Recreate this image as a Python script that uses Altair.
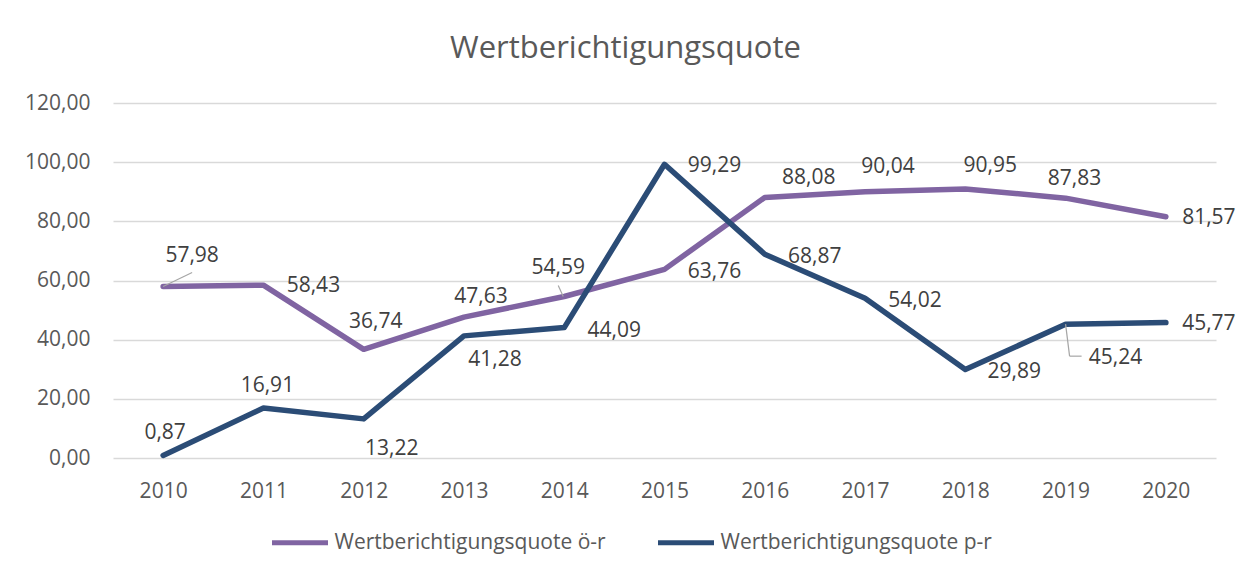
import altair as alt
import pandas as pd

years = [2010, 2011, 2012, 2013, 2014, 2015, 2016, 2017, 2018, 2019, 2020]
quote_oer = [57.98, 58.43, 36.74, 47.63, 54.59, 63.76, 88.08, 90.04, 90.95, 87.83, 81.57]
quote_pr = [0.87, 16.91, 13.22, 41.28, 44.09, 99.29, 68.87, 54.02, 29.89, 45.24, 45.77]
series_names = ["Wertberichtigungsquote ö-r", "Wertberichtigungsquote p-r"]
series_colors = ["#8064a2", "#2b4c76"]
y_ticks = [0, 20, 40, 60, 80, 100, 120]
title_text = "Wertberichtigungsquote"

rows = []
for name, vals in zip(series_names, [quote_oer, quote_pr]):
    for yr, v in zip(years, vals):
        rows.append({"Jahr": str(yr), "Reihe": name, "Wert": v})
df = pd.DataFrame(rows)

FONT = "Open Sans"
fmt = "replace(format(datum.Wert, '.2f'), '.', ',')"

x_enc = alt.X("Jahr:O", sort=[str(y) for y in years],
              scale=alt.Scale(type="point", padding=0.5),
              axis=alt.Axis(title=None, labelAngle=0, domain=False, ticks=False,
                            labelPadding=22, grid=False))
y_enc = alt.Y("Wert:Q", scale=alt.Scale(domain=[0, 120]),
              axis=alt.Axis(title=None, values=y_ticks, domain=False, ticks=False,
                            labelPadding=23, gridColor="#d9d9d9", gridWidth=1.3,
                            labelExpr="replace(format(datum.value, '.2f'), '.', ',')"))

base = alt.Chart(df).encode(x=x_enc, y=y_enc).transform_calculate(label=fmt)

legend = alt.Legend(title=None, orient="none", legendX=156.5, legendY=409,
                    direction="horizontal", symbolType="stroke", symbolSize=3136,
                    symbolStrokeWidth=5, labelFont=FONT, labelFontSize=21,
                    labelColor="#595959", labelLimit=500, columnPadding=41,
                    labelOffset=4, padding=0)
color_enc = alt.Color("Reihe:N", scale=alt.Scale(domain=series_names, range=series_colors),
                      legend=legend)

layers = []
for name in series_names:
    layers.append(
        base.transform_filter(alt.datum.Reihe == name)
        .mark_line(strokeWidth=5.5, strokeCap="round", strokeJoin="round")
        .encode(color=color_enc)
    )

# label placement (pixel offsets from point) per series and year
placement = {
    series_names[0]: {2010: (29, -30), 2011: (50, 1), 2012: (12, -27), 2013: (17, -20),
                      2014: (-6, -29), 2015: (50, 3), 2016: (44, -19), 2017: (23, -25),
                      2018: (25, -23), 2019: (9, -19), 2020: (43, 1)},
    series_names[1]: {2010: (2, -22), 2011: (4, -22), 2012: (28, 30), 2013: (31, 24),
                      2014: (50, 3), 2015: (50, 2), 2016: (50, 3), 2017: (50, 3),
                      2018: (49, 2), 2019: (50, 34), 2020: (43, 1)},
}
for name in series_names:
    for yr, (dx, dy) in placement[name].items():
        layers.append(
            base.transform_filter((alt.datum.Reihe == name) & (alt.datum.Jahr == str(yr)))
            .mark_text(dx=dx, dy=dy, font=FONT, fontSize=21, color="#404040",
                       baseline="middle", align="center")
            .encode(text="label:N")
        )

# leader lines
leaders = [
    (series_names[0], 2010, (0, 0, 29, -14)),
    (series_names[0], 2014, (-6, -11, -1, 0)),
    (series_names[1], 2019, (0, 0, 4, 32)),
    (series_names[1], 2019, (4, 32, 16, 32)),
]
for name, yr, (x0, y0, x1, y1) in leaders:
    layers.append(
        base.transform_filter((alt.datum.Reihe == name) & (alt.datum.Jahr == str(yr)))
        .mark_rule(color="#a6a6a6", strokeWidth=1.2, xOffset=x0, yOffset=y0,
                   x2Offset=x1, y2Offset=y1)
        .encode(x2=alt.X2("Jahr:O"), y2=alt.Y2("Wert:Q"))
    )

chart = alt.layer(*layers).properties(
    width=1103, height=355,
    autosize=alt.AutoSizeParams(type="none"),
    padding={"left": 105, "top": 95, "right": 20, "bottom": 100},
    title=alt.Title(title_text, fontSize=31, font=FONT, fontWeight="normal",
                    color="#595959", anchor="middle", frame="group", dx=-39,
                    baseline="alphabetic", offset=3),
).configure_view(stroke=None).configure_axis(
    labelFont=FONT, labelFontSize=21, labelColor="#595959"
)

chart.save("out.html", embed_options={"renderer": "svg", "actions": False})
